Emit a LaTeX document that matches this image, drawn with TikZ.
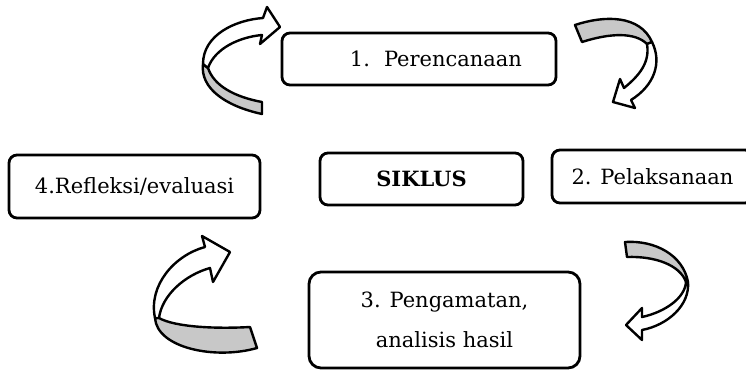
\documentclass[tikz,border=0pt]{standalone}
\usepackage{fontspec}
\setmainfont{DejaVu Serif}
\definecolor{bandgray}{RGB}{200,200,200}
\begin{document}
\begin{tikzpicture}[x=1pt,y=-1pt,
  box/.style={draw=black, line width=2.8pt, rounded corners=8pt, fill=white,
    inner sep=0pt, font=\fontsize{21}{26}\selectfont},
  band/.style={draw=black, line width=2.4pt, line join=round},
  back/.style={band, fill=bandgray},
  front/.style={band, fill=white}]
\clip (0,0) rectangle (746,370);
\fill[white] (0,0) rectangle (746,370);

% boxes
\node[box, minimum width=274pt, minimum height=52pt] (plan) at (419,59)
  {\hspace*{34pt}1.\hspace{14pt}Perencanaan};
\node[box, minimum width=251pt, minimum height=63pt] (refl) at (134.5,186.5)
  {4.Refleksi/evaluasi};
\node[box, minimum width=203pt, minimum height=52pt,
  font=\fontsize{21}{26}\selectfont\bfseries] (siklus) at (421.5,179) {SIKLUS};
\node[box, minimum width=201pt, minimum height=53pt] (pel) at (652.5,176.5)
  {2. Pelaksanaan};
\node[box, rounded corners=12pt, minimum width=271pt, minimum height=96pt,
  align=center, font=\fontsize{21}{40}\selectfont] (obs) at (444.5,320)
  {3. Pengamatan,\\analisis hasil};

% arrow A (top left)
\draw[back] (203,64) .. controls (200,88) and (225,106) .. (262,114)
  -- (262,102) .. controls (235,97) and (214,86) .. (208,68) -- cycle;
\draw[front] (203,64) .. controls (203,35) and (235,20) .. (263,18)
  -- (267,7) -- (280,27) -- (260,44) -- (262,35)
  .. controls (240,37) and (215,48) .. (208,68) -- cycle;

% arrow B (top right)
\draw[back] (575,25) .. controls (605,15) and (640,15) .. (652,42)
  -- (647,44) .. controls (635,32) and (610,33) .. (582,42) -- cycle;
\draw[front] (652,42) .. controls (662,62) and (655,85) .. (631,100)
  -- (635,108) -- (613,102) -- (620,79) -- (624,88)
  .. controls (640,75) and (650,62) .. (647,44) -- cycle;

% arrow C (bottom left)
\draw[back] (155,318) .. controls (157,348) and (215,360) .. (257,348)
  -- (250,327) .. controls (215,329) and (175,327) .. (159,318) -- cycle;
\draw[front] (155,318) .. controls (148,285) and (175,255) .. (205,247)
  -- (202,236) -- (230,252) -- (213,282) -- (210,268)
  .. controls (185,275) and (162,295) .. (159,318) -- cycle;

% arrow D (bottom right)
\draw[back] (625,242) .. controls (655,240) and (683,255) .. (688,282)
  -- (686,282) .. controls (680,265) and (655,256) .. (627,257) -- cycle;
\draw[front] (688,282) .. controls (690,305) and (668,325) .. (642,330)
  -- (642,340) -- (626,325) -- (642,308) -- (642,317)
  .. controls (665,312) and (685,298) .. (686,282) -- cycle;
\end{tikzpicture}
\end{document}
